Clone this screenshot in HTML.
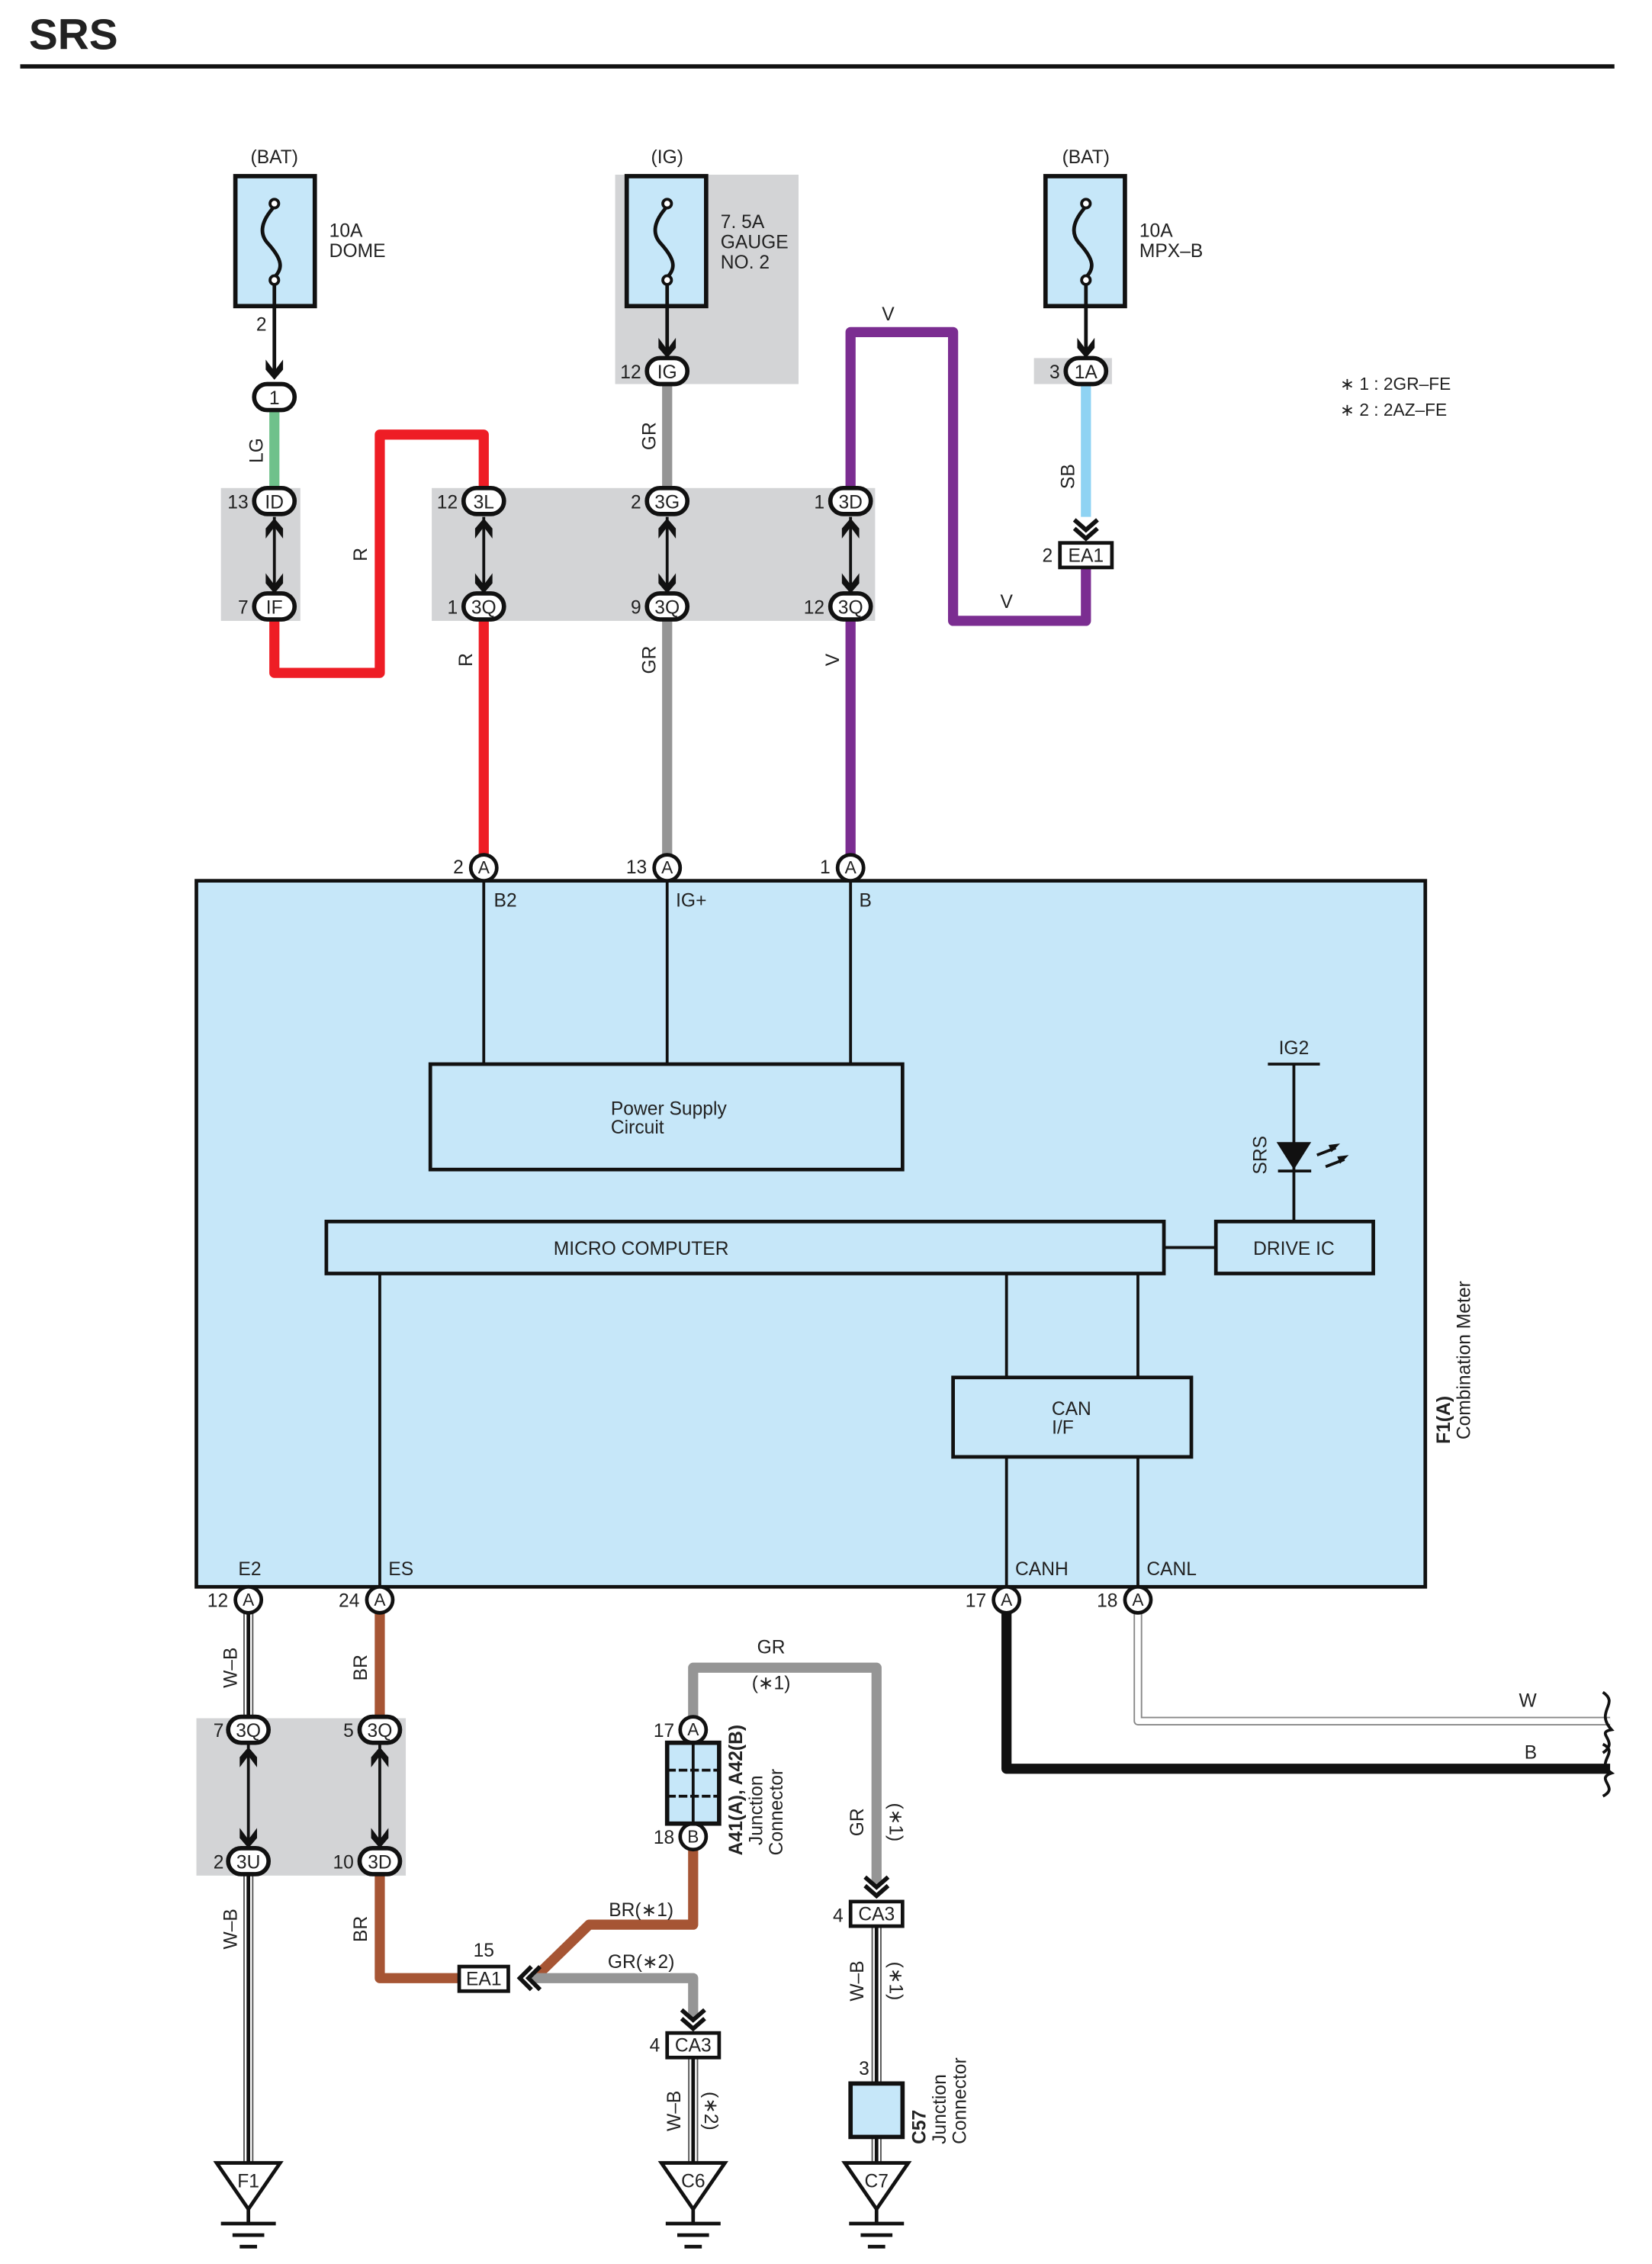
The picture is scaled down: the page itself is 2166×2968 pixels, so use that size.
<!DOCTYPE html>
<html><head><meta charset="utf-8"><style>html,body{margin:0;padding:0;background:#fff}svg{display:block}text{font-family:"Liberation Sans",sans-serif;fill:#222}</style></head><body>
<svg width="2166" height="2968" viewBox="0 0 1144 1568" preserveAspectRatio="none" xmlns="http://www.w3.org/2000/svg">
<defs>
<g id="dn"><path d="M-6,-9 L0,-1 L6,-9 L6,-2 L0,5 L-6,-2 Z" fill="#111"/></g>
<g id="up"><path d="M-6,9 L0,1 L6,9 L6,2 L0,-5 L-6,2 Z" fill="#111"/></g>
<g id="dch"><path d="M-8,-10 L0,-3 L8,-10 M-8,-4 L0,3 L8,-4" fill="none" stroke="#111" stroke-width="3"/></g>
</defs>
<text x="20" y="34" font-size="30" font-weight="bold" fill="#111">SRS</text>
<line x1="14" y1="46" x2="1118" y2="46" stroke="#111" stroke-width="3"/>

<rect x="426" y="121" width="127" height="145" fill="#d3d4d6"/>
<rect x="716" y="248" width="54" height="18" fill="#d3d4d6"/>
<rect x="153" y="338" width="55" height="92" fill="#d3d4d6"/>
<rect x="299" y="338" width="307" height="92" fill="#d3d4d6"/>
<rect x="136" y="1190" width="145" height="109" fill="#d3d4d6"/>

<g font-size="13">
<text x="190" y="113" text-anchor="middle">(BAT)</text>
<rect x="163" y="122" width="55" height="90" fill="#c6e7f9" stroke="#111" stroke-width="3"/>
<text x="228" y="164">10A</text><text x="228" y="178">DOME</text>
<text x="462" y="113" text-anchor="middle">(IG)</text>
<rect x="434" y="122" width="55" height="90" fill="#c6e7f9" stroke="#111" stroke-width="3"/>
<text x="499" y="158">7. 5A</text><text x="499" y="172">GAUGE</text><text x="499" y="186">NO. 2</text>
<text x="752" y="113" text-anchor="middle">(BAT)</text>
<rect x="724" y="122" width="55" height="90" fill="#c6e7f9" stroke="#111" stroke-width="3"/>
<text x="789" y="164">10A</text><text x="789" y="178">MPX–B</text>
</g>
<g fill="none" stroke="#111" stroke-width="2.5">
<path d="M190,143 C180,154 180,162 185,168 C196,180 196,186 190,192"/>
<path d="M462,143 C452,154 452,162 457,168 C468,180 468,186 462,192"/>
<path d="M752,143 C742,154 742,162 747,168 C758,180 758,186 752,192"/>
</g>
<g fill="#fff" stroke="#111" stroke-width="2"><circle cx="190" cy="141" r="3"/><circle cx="190" cy="194" r="3"/><circle cx="462" cy="141" r="3"/><circle cx="462" cy="194" r="3"/><circle cx="752" cy="141" r="3"/><circle cx="752" cy="194" r="3"/></g>
<g stroke="#111" stroke-width="2.5"><line x1="190" y1="197" x2="190" y2="260"/><line x1="462" y1="197" x2="462" y2="243"/><line x1="752" y1="197" x2="752" y2="243"/></g>
<use href="#dn" x="190" y="258"/><use href="#dn" x="462" y="243"/><use href="#dn" x="752" y="243"/>
<text x="181" y="229" font-size="13" text-anchor="middle">2</text>

<g fill="none" stroke-linejoin="round">
<line x1="190" y1="283" x2="190" y2="340" stroke="#6fc18b" stroke-width="7"/>
<path d="M190,428 V466 H263 V301 H335 V340" stroke="#ee1d25" stroke-width="7"/>
<line x1="462" y1="265" x2="462" y2="340" stroke="#959595" stroke-width="7"/>
<line x1="752" y1="265" x2="752" y2="358" stroke="#8fd3f3" stroke-width="7"/>
<path d="M752,392 V430 H660 V230 H589 V340" stroke="#7b2d91" stroke-width="7"/>
<line x1="335" y1="428" x2="335" y2="593" stroke="#ee1d25" stroke-width="7"/>
<line x1="462" y1="428" x2="462" y2="593" stroke="#959595" stroke-width="7"/>
<line x1="589" y1="428" x2="589" y2="593" stroke="#7b2d91" stroke-width="7"/>
<path d="M263,1117 V1190" stroke="#a65534" stroke-width="7"/>
<path d="M263,1298 V1370 H318" stroke="#a65534" stroke-width="7"/>
<path d="M370,1370 L408,1333 H480 V1280" stroke="#a65534" stroke-width="7"/>
<path d="M368,1370 H480 V1398" stroke="#959595" stroke-width="7"/>
<path d="M480,1190 V1155 H607 V1305" stroke="#959595" stroke-width="7"/>
<path d="M697,1117 V1225 H1115" stroke="#111" stroke-width="7"/>
<path d="M788,1117 V1192 H1115" stroke="#888" stroke-width="6"/>
<path d="M788,1117 V1192 H1115" stroke="#fff" stroke-width="4"/>
<line x1="172" y1="1117" x2="172" y2="1190" stroke="#555" stroke-width="7"/>
<line x1="172" y1="1117" x2="172" y2="1190" stroke="#fff" stroke-width="5"/>
<line x1="172" y1="1117" x2="172" y2="1190" stroke="#111" stroke-width="2.5"/>
<line x1="172" y1="1298" x2="172" y2="1498" stroke="#555" stroke-width="7"/>
<line x1="172" y1="1298" x2="172" y2="1498" stroke="#fff" stroke-width="5"/>
<line x1="172" y1="1298" x2="172" y2="1498" stroke="#111" stroke-width="2.5"/>
<line x1="480" y1="1425" x2="480" y2="1498" stroke="#555" stroke-width="7"/>
<line x1="480" y1="1425" x2="480" y2="1498" stroke="#fff" stroke-width="5"/>
<line x1="480" y1="1425" x2="480" y2="1498" stroke="#111" stroke-width="2.5"/>
<line x1="607" y1="1335" x2="607" y2="1498" stroke="#555" stroke-width="7"/>
<line x1="607" y1="1335" x2="607" y2="1498" stroke="#fff" stroke-width="5"/>
<line x1="607" y1="1335" x2="607" y2="1498" stroke="#111" stroke-width="2.5"/>
</g>
<path d="M1110,1172 C1122,1180 1104,1185 1116,1198 C1104,1200 1122,1206 1110,1214" fill="none" stroke="#111" stroke-width="2"/>
<path d="M1110,1208 C1122,1214 1104,1220 1116,1228 C1104,1232 1122,1238 1110,1244" fill="none" stroke="#111" stroke-width="2"/>
<text x="1058" y="1182" font-size="13" text-anchor="middle">W</text>
<text x="1060" y="1218" font-size="13" text-anchor="middle">B</text>

<g stroke="#111" stroke-width="2">
<line x1="190" y1="358" x2="190" y2="408"/><line x1="335" y1="358" x2="335" y2="408"/><line x1="462" y1="358" x2="462" y2="408"/><line x1="589" y1="358" x2="589" y2="408"/>
<line x1="172" y1="1208" x2="172" y2="1278"/><line x1="263" y1="1208" x2="263" y2="1278"/>
</g>
<use href="#up" x="190" y="364"/><use href="#dn" x="190" y="406"/>
<use href="#up" x="335" y="364"/><use href="#dn" x="335" y="406"/>
<use href="#up" x="462" y="364"/><use href="#dn" x="462" y="406"/>
<use href="#up" x="589" y="364"/><use href="#dn" x="589" y="406"/>
<use href="#up" x="172" y="1215"/><use href="#dn" x="172" y="1275"/>
<use href="#up" x="263" y="1215"/><use href="#dn" x="263" y="1275"/>
<use href="#dch" x="752" y="370"/><use href="#dch" x="480" y="1402"/><use href="#dch" x="607" y="1310"/>
<path d="M368,1362 L360,1370 L368,1378 M374,1362 L366,1370 L374,1378" fill="none" stroke="#111" stroke-width="3"/>

<g fill="#fff" stroke="#111" stroke-width="3">
<rect x="176" y="266" width="28" height="18" rx="9"/>
<rect x="176" y="338" width="28" height="18" rx="9"/><rect x="176" y="411" width="28" height="18" rx="9"/>
<rect x="321" y="338" width="28" height="18" rx="9"/><rect x="448" y="338" width="28" height="18" rx="9"/><rect x="575" y="338" width="28" height="18" rx="9"/>
<rect x="321" y="411" width="28" height="18" rx="9"/><rect x="448" y="411" width="28" height="18" rx="9"/><rect x="575" y="411" width="28" height="18" rx="9"/>
<rect x="448" y="248" width="28" height="18" rx="9"/><rect x="738" y="248" width="28" height="18" rx="9"/>
<rect x="158" y="1189" width="28" height="18" rx="9"/><rect x="249" y="1189" width="28" height="18" rx="9"/>
<rect x="158" y="1280" width="28" height="18" rx="9"/><rect x="249" y="1280" width="28" height="18" rx="9"/>
</g>
<g font-size="13" text-anchor="middle">
<text x="190" y="280">1</text><text x="190" y="352">ID</text><text x="190" y="425">IF</text>
<text x="335" y="352">3L</text><text x="462" y="352">3G</text><text x="589" y="352">3D</text>
<text x="335" y="425">3Q</text><text x="462" y="425">3Q</text><text x="589" y="425">3Q</text>
<text x="462" y="262">IG</text><text x="752" y="262">1A</text>
<text x="172" y="1203">3Q</text><text x="263" y="1203">3Q</text><text x="172" y="1294">3U</text><text x="263" y="1294">3D</text>
</g>
<g font-size="13" text-anchor="end">
<text x="172" y="352">13</text><text x="172" y="425">7</text>
<text x="317" y="352">12</text><text x="444" y="352">2</text><text x="571" y="352">1</text>
<text x="317" y="425">1</text><text x="444" y="425">9</text><text x="571" y="425">12</text>
<text x="444" y="262">12</text><text x="734" y="262">3</text><text x="729" y="389">2</text>
<text x="155" y="1203">7</text><text x="245" y="1203">5</text><text x="155" y="1294">2</text><text x="245" y="1294">10</text>
<text x="321" y="605">2</text><text x="448" y="605">13</text><text x="575" y="605">1</text>
<text x="158" y="1113">12</text><text x="249" y="1113">24</text><text x="683" y="1113">17</text><text x="774" y="1113">18</text>
<text x="467" y="1203">17</text><text x="467" y="1277">18</text>
<text x="457" y="1421">4</text><text x="584" y="1331">4</text><text x="602" y="1437">3</text>
</g>
<g fill="#fff" stroke="#111" stroke-width="2.5">
<rect x="734" y="376" width="36" height="17"/><rect x="318" y="1362" width="34" height="17"/>
<rect x="462" y="1408" width="36" height="17"/><rect x="589" y="1317" width="36" height="17"/>
</g>
<g font-size="13" text-anchor="middle">
<text x="752" y="389">EA1</text><text x="335" y="1375">EA1</text><text x="480" y="1421">CA3</text><text x="607" y="1330">CA3</text>
</g>
<text x="335" y="1355" font-size="13" text-anchor="middle">15</text>

<g font-size="13" text-anchor="middle">
<text transform="translate(182,312) rotate(-90)">LG</text>
<text transform="translate(254,384) rotate(-90)">R</text>
<text transform="translate(454,302) rotate(-90)">GR</text>
<text transform="translate(744,330) rotate(-90)">SB</text>
<text transform="translate(327,457) rotate(-90)">R</text>
<text transform="translate(454,457) rotate(-90)">GR</text>
<text transform="translate(581,457) rotate(-90)">V</text>
<text transform="translate(164,1155) rotate(-90)">W–B</text>
<text transform="translate(254,1155) rotate(-90)">BR</text>
<text transform="translate(164,1336) rotate(-90)">W–B</text>
<text transform="translate(254,1336) rotate(-90)">BR</text>
<text transform="translate(471,1462) rotate(-90)">W–B</text>
<text transform="translate(488,1462) rotate(90)">(∗2)</text>
<text transform="translate(598,1262) rotate(-90)">GR</text>
<text transform="translate(616,1262) rotate(90)">(∗1)</text>
<text transform="translate(598,1372) rotate(-90)">W–B</text>
<text transform="translate(616,1372) rotate(90)">(∗1)</text>
<text x="615" y="222">V</text><text x="697" y="421">V</text>
<text x="534" y="1145">GR</text><text x="534" y="1170">(∗1)</text>
<text x="444" y="1327">BR(∗1)</text><text x="444" y="1363">GR(∗2)</text>
</g>
<g font-size="12"><text x="928" y="270">∗ 1 : 2GR–FE</text><text x="928" y="288">∗ 2 : 2AZ–FE</text></g>

<rect x="136" y="610" width="851" height="489" fill="#c6e7f9" stroke="#111" stroke-width="2.5"/>
<g stroke="#111" stroke-width="2">
<line x1="335" y1="610" x2="335" y2="737"/><line x1="462" y1="610" x2="462" y2="737"/><line x1="589" y1="610" x2="589" y2="737"/>
<line x1="263" y1="882" x2="263" y2="1099"/>
<line x1="697" y1="882" x2="697" y2="954"/><line x1="788" y1="882" x2="788" y2="954"/>
<line x1="697" y1="1009" x2="697" y2="1099"/><line x1="788" y1="1009" x2="788" y2="1099"/>
<line x1="806" y1="864" x2="842" y2="864"/>
<line x1="878" y1="737" x2="914" y2="737"/><line x1="896" y1="737" x2="896" y2="846"/>
<line x1="885" y1="811" x2="908" y2="811"/>
<line x1="912" y1="800" x2="925" y2="795"/><line x1="918" y1="808" x2="931" y2="803"/>
</g>
<polygon points="884,791 908,791 896,810" fill="#111"/>
<polygon points="928,792 922,798 920,793" fill="#111"/><polygon points="934,800 928,806 926,801" fill="#111"/>
<g fill="none" stroke="#111" stroke-width="2.5">
<rect x="298" y="737" width="327" height="73"/><rect x="226" y="846" width="580" height="36"/>
<rect x="842" y="846" width="109" height="36"/><rect x="660" y="954" width="165" height="55"/>
</g>
<g font-size="13">
<text x="342" y="628">B2</text><text x="468" y="628">IG+</text><text x="595" y="628">B</text>
<text x="423" y="772">Power Supply</text><text x="423" y="785">Circuit</text>
<text x="444" y="869" text-anchor="middle">MICRO COMPUTER</text>
<text x="896" y="869" text-anchor="middle">DRIVE IC</text>
<text x="896" y="730" text-anchor="middle">IG2</text>
<text transform="translate(877,800) rotate(-90)" text-anchor="middle">SRS</text>
<text x="742" y="980" text-anchor="middle">CAN</text><text x="736" y="993" text-anchor="middle">I/F</text>
<text x="165" y="1091">E2</text><text x="269" y="1091">ES</text><text x="703" y="1091">CANH</text><text x="794" y="1091">CANL</text>
<text transform="translate(1004,1000) rotate(-90)" font-weight="bold">F1(A)</text>
<text transform="translate(1018,997) rotate(-90)">Combination Meter</text>
</g>
<g fill="#fff" stroke="#111" stroke-width="2.5">
<circle cx="335" cy="601" r="9"/><circle cx="462" cy="601" r="9"/><circle cx="589" cy="601" r="9"/>
<circle cx="172" cy="1108" r="9"/><circle cx="263" cy="1108" r="9"/><circle cx="697" cy="1108" r="9"/><circle cx="788" cy="1108" r="9"/>
<circle cx="480" cy="1198" r="9"/><circle cx="480" cy="1272" r="9"/>
</g>
<g font-size="12" text-anchor="middle">
<text x="335" y="605">A</text><text x="462" y="605">A</text><text x="589" y="605">A</text>
<text x="172" y="1112">A</text><text x="263" y="1112">A</text><text x="697" y="1112">A</text><text x="788" y="1112">A</text>
<text x="480" y="1202">A</text><text x="480" y="1276">B</text>
</g>
<rect x="462" y="1207" width="36" height="56" fill="#c6e7f9" stroke="#111" stroke-width="3"/>
<g stroke="#111" stroke-width="2"><line x1="480" y1="1207" x2="480" y2="1263"/><line x1="462" y1="1226" x2="498" y2="1226" stroke-dasharray="6,2"/><line x1="462" y1="1244" x2="498" y2="1244" stroke-dasharray="6,2"/></g>
<g font-size="13">
<text transform="translate(514,1285) rotate(-90)" font-weight="bold">A41(A), A42(B)</text>
<text transform="translate(528,1278) rotate(-90)">Junction</text>
<text transform="translate(542,1285) rotate(-90)">Connector</text>
</g>
<rect x="589" y="1443" width="36" height="37" fill="#c6e7f9" stroke="#111" stroke-width="3"/>
<g font-size="13">
<text transform="translate(641,1485) rotate(-90)" font-weight="bold">C57</text>
<text transform="translate(655,1485) rotate(-90)">Junction</text>
<text transform="translate(669,1485) rotate(-90)">Connector</text>
</g>
<g fill="#fff" stroke="#111" stroke-width="2.5">
<polygon points="150,1498 194,1498 172,1530"/><polygon points="458,1498 502,1498 480,1530"/><polygon points="585,1498 629,1498 607,1530"/>
</g>
<g stroke="#111" stroke-width="2.5">
<path d="M172,1530V1540M153,1540H191M161,1548H183M166,1556H178"/>
<path d="M480,1530V1540M461,1540H499M469,1548H491M474,1556H486"/>
<path d="M607,1530V1540M588,1540H626M596,1548H618M601,1556H613"/>
</g>
<g font-size="13" text-anchor="middle"><text x="172" y="1515">F1</text><text x="480" y="1515">C6</text><text x="607" y="1515">C7</text></g>
</svg>
</body></html>
